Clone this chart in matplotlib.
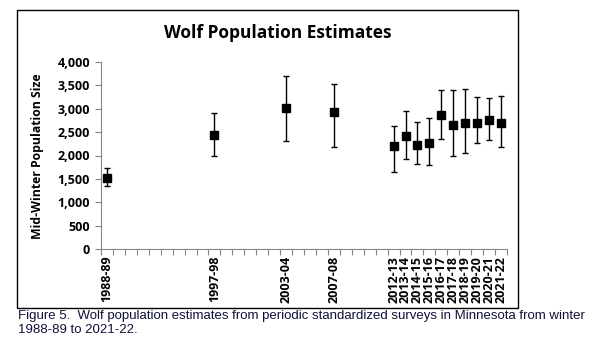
import matplotlib
matplotlib.use("Agg")
import matplotlib.pyplot as plt
from matplotlib.patches import Rectangle
from matplotlib.ticker import FixedLocator, FuncFormatter

# Data
survey_years = ["1988-89", "1997-98", "2003-04", "2007-08", "2012-13", "2013-14",
                "2014-15", "2015-16", "2016-17", "2017-18", "2018-19", "2019-20",
                "2020-21", "2021-22"]
estimates = [1521, 2445, 3020, 2921, 2211, 2423, 2221, 2278, 2856, 2655, 2699, 2699, 2759, 2696]
lower_ci = [1351, 1995, 2301, 2192, 1652, 1935, 1823, 1804, 2359, 1986, 2055, 2276, 2325, 2176]
upper_ci = [1736, 2905, 3708, 3525, 2641, 2948, 2710, 2812, 3395, 3406, 3429, 3261, 3240, 3264]
all_categories = [f"{y}-{str(y + 1)[-2:]}" for y in range(1988, 2022)]

font = ["Open Sans", "DejaVu Sans"]

fig = plt.figure(figsize=(5.92, 3.45), dpi=100)
fig.patch.set_facecolor("white")

# chart border
fig.add_artist(Rectangle((17 / 592, 1 - 308 / 345), (518 - 17) / 592, (308 - 10) / 345,
                         transform=fig.transFigure, fill=False, edgecolor="black", lw=1.0))

ax = fig.add_axes([101 / 592, 1 - 249 / 345, (507 - 101) / 592, (249 - 62) / 345])

xpos = [all_categories.index(c) for c in survey_years]
yerr = [[e - l for e, l in zip(estimates, lower_ci)], [u - e for e, u in zip(estimates, upper_ci)]]
ax.errorbar(xpos, estimates, yerr=yerr, fmt="s", color="black", ecolor="black",
            markersize=6, elinewidth=1.0, capsize=2, capthick=1.0, zorder=3)

ax.set_xlim(-0.5, len(all_categories) - 0.5)
ax.set_ylim(0, 4000)
ax.set_yticks(range(0, 4001, 500))
ax.yaxis.set_major_formatter(FuncFormatter(lambda v, p: f"{int(v):,}"))

ax.set_xticks(range(len(all_categories)))
ax.set_xticklabels([c if c in survey_years else "" for c in all_categories],
                   rotation=90, fontweight="bold", fontsize=9, family=font)
ax.xaxis.set_minor_locator(FixedLocator([i - 0.5 for i in range(len(all_categories) + 1)]))
ax.tick_params(axis="x", which="major", length=0, pad=5)
ax.tick_params(axis="x", which="minor", length=4, color="#868686", width=0.8)
ax.tick_params(axis="y", length=4, color="#868686", width=0.8, pad=4)
for lab in ax.get_yticklabels():
    lab.set_fontweight("bold")
    lab.set_fontsize(9)
    lab.set_family(font)

for s in ["top", "right"]:
    ax.spines[s].set_visible(False)
for s in ["left", "bottom"]:
    ax.spines[s].set_color("#868686")
    ax.spines[s].set_linewidth(0.8)

fig.text(0.064, 1 - 156 / 345, "Mid-Winter Population Size", rotation=90, ha="center",
         va="center", fontsize=8.8, fontweight="bold", family=font)
fig.text(278 / 592, 1 - 33 / 345, "Wolf Population Estimates", ha="center", va="center",
         fontsize=12.5, fontweight="bold", family=font)

fig.text(18 / 592, 1 - 310 / 345,
         "Figure 5.  Wolf population estimates from periodic standardized surveys in Minnesota from winter\n1988-89 to 2021-22.",
         ha="left", va="top", fontsize=9.5, family="Liberation Sans", color="#10103a",
         linespacing=1.25)

fig.savefig("out.png", dpi=100, facecolor="white")
